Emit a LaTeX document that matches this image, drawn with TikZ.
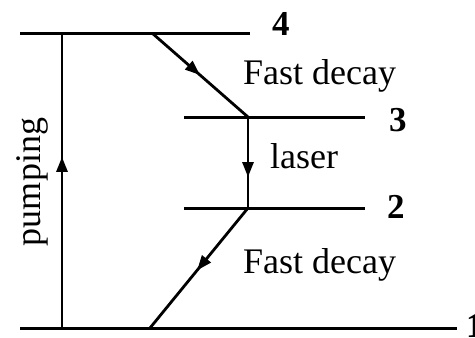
\documentclass[tikz,border=0pt]{standalone}
\usepackage{fontspec}
\setmainfont{Liberation Serif}
\usetikzlibrary{arrows.meta,decorations.markings}
\tikzset{
  level/.style={line width=3pt},
  trans/.style={line width=2.8pt},
  midarrow/.style={postaction={decorate},decoration={markings,
     mark=at position #1 with {\arrow{Triangle[length=15pt,width=11pt]}}}},
  lbl/.style={font=\fontsize{36}{42}\selectfont,inner sep=0pt},
  num/.style={font=\fontsize{35}{42}\selectfont\bfseries,inner sep=0pt},
}
\begin{document}
\begin{tikzpicture}[x=1pt,y=-1pt]
\useasboundingbox (0,0) rectangle (475,338);
% level end points
\coordinate (l4a) at (20,33);  \coordinate (l4b) at (250,33);
\coordinate (l3a) at (184,117); \coordinate (l3b) at (365,117);
\coordinate (l2a) at (184,208); \coordinate (l2b) at (365,208);
\coordinate (l1a) at (20,328);  \coordinate (l1b) at (457,328);
% transition end points
\coordinate (p1) at (62,328); \coordinate (p4) at (62,33);
\coordinate (d4) at (152,33); \coordinate (d3) at (248,117);
\coordinate (d2) at (248,208); \coordinate (d1) at (150,328);
% levels
\draw[level] (l4a) -- (l4b);
\draw[level] (l3a) -- (l3b);
\draw[level] (l2a) -- (l2b);
\draw[level] (l1a) -- (l1b);
% transitions
\draw[trans,midarrow=0.58] (p1) -- (p4);
\draw[trans,midarrow=0.5] (d4) -- (d3);
\draw[trans,midarrow=0.66] (d3) -- (d2);
\draw[trans,midarrow=0.52] (d2) -- (d1);
% labels
\node[num,anchor=base west] (n4) at (272,35) {4};
\node[num,anchor=base west] (n3) at (389,131) {3};
\node[num,anchor=base west] (n2) at (387,218) {2};
\node[num,anchor=base west] (n1) at (466,337) {1};
\node[lbl,anchor=base west] (fd1) at (243,84) {Fast decay};
\node[lbl,anchor=base west] (las) at (270,168) {laser};
\node[lbl,anchor=base west] (fd2) at (243,273) {Fast decay};
\node[lbl,rotate=90] (pump) at (32,182) {pumping};
\end{tikzpicture}
\end{document}
